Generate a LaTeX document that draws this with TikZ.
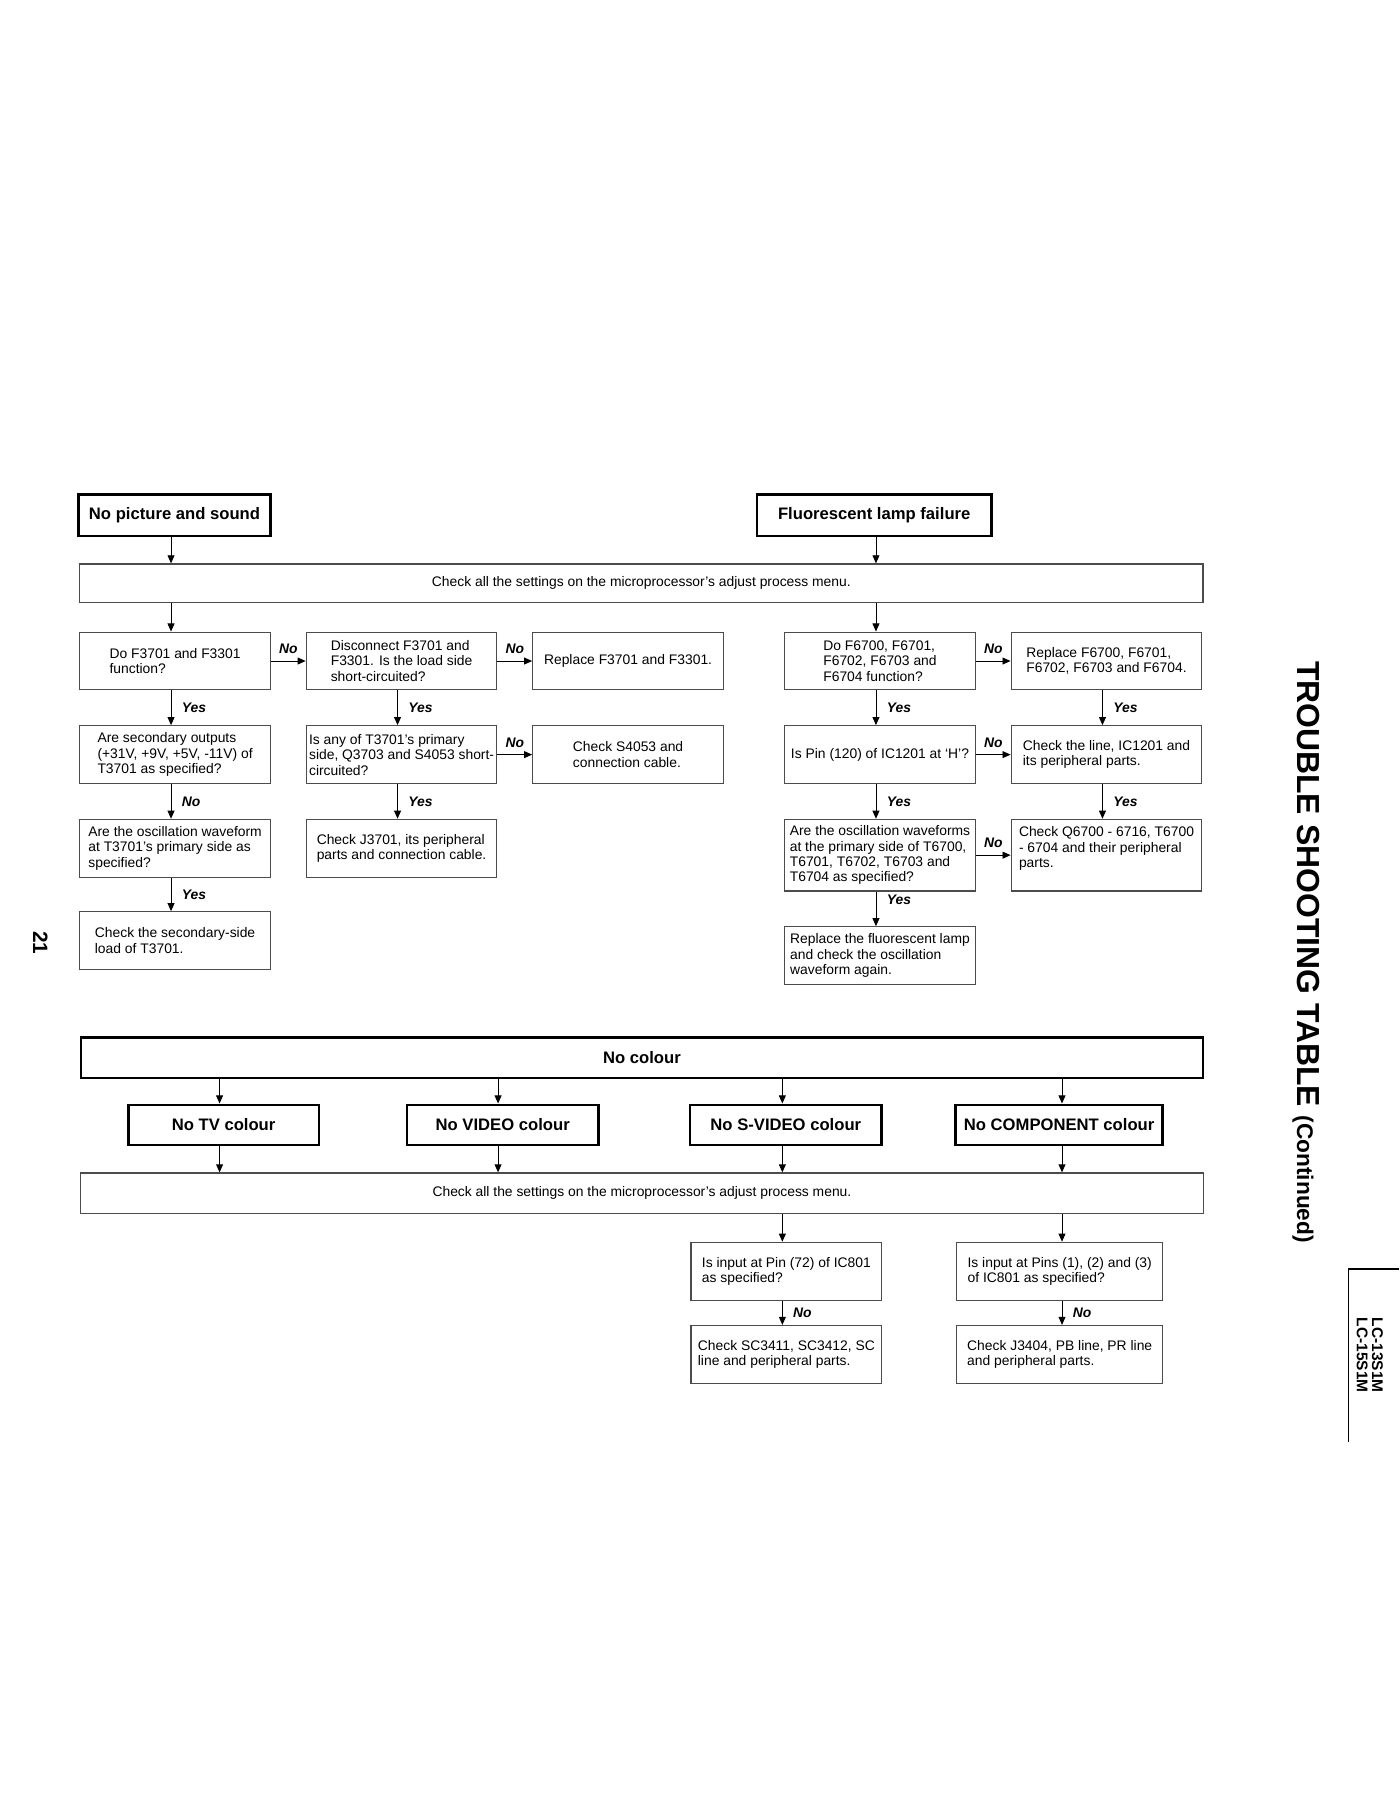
\documentclass[tikz,border=0pt]{standalone}
\usepackage{fontspec}
\setmainfont{Liberation Sans}
\usepackage{tikz}
\usetikzlibrary{calc}
\usetikzlibrary{arrows.meta,positioning}
\newcommand\askdown[4]{
  \draw[flow] ([xshift=-1.75pt]#1.south) -- ([xshift=-1.75pt]#2.north)
    node[answer,pos=#4,right=4.5pt]{#3};
}
\newcommand\askright[3]{
  \draw[flow] (#1.east) -- (#2.west)
    node[answer,midway,above=3pt]{#3};
}

\begin{document}
\begin{tikzpicture}[x=0.5pt,y=-0.5pt,
    flow/.style={line width=0.4pt,-{Triangle[length=3.5pt,width=3pt]}},
    qbox/.style={draw=black!70,line width=0.5pt,minimum width=82.5pt,
      minimum height=25pt,inner sep=1pt,align=left,
      font=\fontsize{6}{6.7}\selectfont},
    menubox/.style={qbox,minimum width=486pt,minimum height=17pt,align=center},
    headbox/.style={draw,line width=1.1pt,minimum height=18pt,inner sep=1pt,
      font=\bfseries\fontsize{7.2}{8}\selectfont},
    answer/.style={inner sep=0pt,font=\bfseries\itshape\fontsize{6}{7}\selectfont}]

  \useasboundingbox (0,0) rectangle (1211,1568);

  % first page half
  \node[headbox,minimum width=83pt] (pic) at (151,446) {No picture and sound};
  \node[headbox,minimum width=101.5pt] (lamp) at (756.5,446) {Fluorescent lamp failure};
  \node[menubox,minimum height=16.5pt] (menuA) at (555,504.5)
    {Check all the settings on the microprocessor’s adjust process menu.};

  \node[qbox] (fuse) at (151.5,572) {Do F3701 and F3301\\function?};
  \node[qbox] (load) at (347.5,572) {Disconnect F3701 and\\F3301. Is the load side\\short-circuited?};
  \node[qbox] (repf) at (543.5,572) {Replace F3701 and F3301.};
  \node[qbox] (sec) at (151.5,653) {Are secondary outputs\\(+31V, +9V, +5V, -11V) of\\T3701 as specified?};
  \node[qbox] (prim) at (347.5,653) {Is any of T3701’s primary\\side, Q3703 and S4053 short-\\circuited?};
  \node[qbox] (sw) at (543.5,653) {Check S4053 and\\connection cable.};
  \node[qbox] (osc) at (151.5,734) {Are the oscillation waveform\\at T3701’s primary side as\\specified?};
  \node[qbox] (jack) at (347.5,734) {Check J3701, its peripheral\\parts and connection cable.};
  \node[qbox] (secload) at (151.5,814) {Check the secondary-side\\load of T3701.};

  \node[qbox] (lfuse) at (761.5,572) {Do F6700, F6701,\\F6702, F6703 and\\F6704 function?};
  \node[qbox] (lrep) at (957.5,572) {Replace F6700, F6701,\\F6702, F6703 and F6704.};
  \node[qbox] (pin) at (761.5,653) {Is Pin (120) of IC1201 at ‘H’?};
  \node[qbox] (line) at (957.5,653) {Check the line, IC1201 and\\its peripheral parts.};
  \node[qbox,minimum height=31pt] (losc) at (761.5,740)
    {Are the oscillation waveforms\\at the primary side of T6700,\\T6701, T6702, T6703 and\\T6704 as specified?};
  \node[qbox,minimum height=31pt] (inv) at (957.5,740)
    {Check Q6700 - 6716, T6700\\- 6704 and their peripheral\\parts.\\\mbox{}};
  \node[qbox] (newlamp) at (761.5,827) {Replace the fluorescent lamp\\and check the oscillation\\waveform again.};

  \draw[flow] ([xshift=-1.5pt]pic.south) -- ([xshift=-1.5pt]pic.south |- menuA.north);
  \draw[flow] ([xshift=0.75pt]lamp.south) -- ([xshift=0.75pt]lamp.south |- menuA.north);
  \draw[flow] ([xshift=-1.75pt]fuse.north |- menuA.south) -- ([xshift=-1.75pt]fuse.north);
  \draw[flow] ([xshift=-1.75pt]lfuse.north |- menuA.south) -- ([xshift=-1.75pt]lfuse.north);

  \askright{fuse}{load}{No}
  \askright{load}{repf}{No}
  \askright{prim}{sw}{No}
  \askright{lfuse}{lrep}{No}
  \askright{pin}{line}{No}
  \askright{losc}{inv}{No}
  \askdown{fuse}{sec}{Yes}{0.5}
  \askdown{sec}{osc}{No}{0.5}
  \askdown{osc}{secload}{Yes}{0.5}
  \askdown{load}{prim}{Yes}{0.5}
  \askdown{prim}{jack}{Yes}{0.5}
  \askdown{lfuse}{pin}{Yes}{0.5}
  \askdown{pin}{losc}{Yes}{0.5}
  \askdown{losc}{newlamp}{Yes}{0.25}
  \askdown{lrep}{line}{Yes}{0.5}
  \askdown{line}{inv}{Yes}{0.5}

  % second half
  \node[headbox,minimum width=485.5pt,minimum height=17.5pt] (col) at (555.5,915.5) {No colour};
  \node[headbox,minimum width=82.5pt,minimum height=17.5pt] (tv) at (193.5,973.5) {No TV colour};
  \node[headbox,minimum width=83pt,minimum height=17.5pt] (video) at (435,973.5) {No VIDEO colour};
  \node[headbox,minimum width=83pt,minimum height=17.5pt] (svideo) at (680,973.5) {No S-VIDEO colour};
  \node[headbox,minimum width=89.5pt,minimum height=17.5pt] (comp) at (916.5,973.5) {No COMPONENT colour};
  \node[menubox,minimum height=17.5pt] (menuB) at (555.5,1032.5)
    {Check all the settings on the microprocessor’s adjust process menu.};

  \foreach \src/\dx in {tv/-1.75pt,video/-2pt,svideo/-1.5pt,comp/1.25pt}{
    \draw[flow] ([xshift=\dx]\src.north |- col.south) -- ([xshift=\dx]\src.north);
    \draw[flow] ([xshift=\dx]\src.south) -- ([xshift=\dx]\src.south |- menuB.north);
  }

  \node[qbox] (ysc) at (680.5,1100) {Is input at Pin (72) of IC801\\as specified?};
  \node[qbox,minimum width=89pt] (ypr) at (917,1100) {Is input at Pins (1), (2) and (3)\\of IC801 as specified?};
  \node[qbox] (ysccheck) at (680.5,1172) {Check SC3411, SC3412, SC\\line and peripheral parts.};
  \node[qbox,minimum width=89pt] (yprcheck) at (917,1172) {Check J3404, PB line, PR line\\and peripheral parts.};

  \draw[flow] ([xshift=-1.75pt]ysc.north |- menuB.south) -- ([xshift=-1.75pt]ysc.north);
  \draw[flow] ([xshift=1pt]ypr.north |- menuB.south) -- ([xshift=1pt]ypr.north);
  \draw[flow] ([xshift=-1.75pt]ysc.south) -- ([xshift=-1.75pt]ysccheck.north)
    node[answer,midway,right=4.5pt]{No};
  \draw[flow] ([xshift=1pt]ypr.south) -- ([xshift=1pt]yprcheck.north)
    node[answer,midway,right=4.5pt]{No};

  % page margin texts
  \node[rotate=-90,font=\bfseries\fontsize{9}{10}\selectfont] (page) at (35,816) {21};
  \node[rotate=-90,anchor=west,font=\bfseries\fontsize{13.8}{15}\selectfont] (title) at (1130,565)
    {TROUBLE SHOOTING TABLE {\fontsize{9.8}{11}\selectfont(Continued)}};
  \node[rotate=-90,anchor=north west,align=left,inner sep=0pt,
    font=\bfseries\fontsize{6.7}{6.5}\selectfont] (model) at (1197,1140) {LC-13S1M\\LC-15S1M};
  \draw[line width=0.6pt] (1211,1098) -- (1167,1098) -- (1167,1248);

\end{tikzpicture}
\end{document}
